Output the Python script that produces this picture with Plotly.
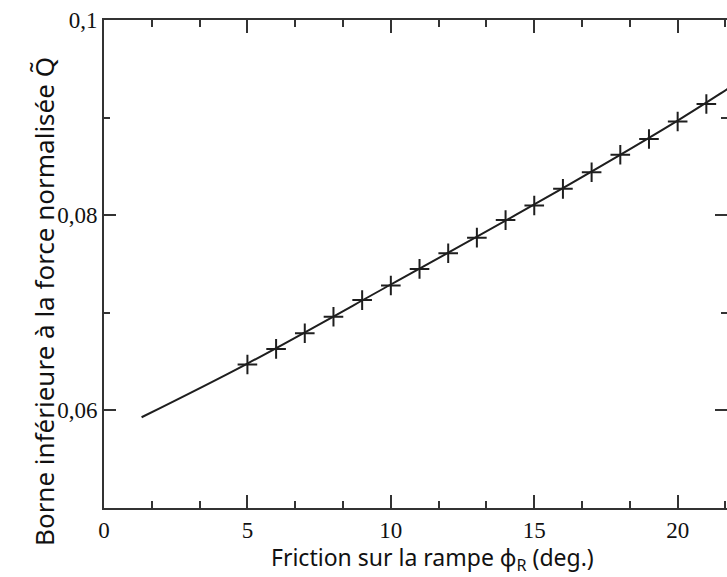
import plotly.graph_objects as go

# Friction angle on the ramp (degrees) and computed lower bound of normalised force
phi_points = [5, 6, 7, 8, 9, 10, 11, 12, 13, 14, 15, 16, 17, 18, 19, 20, 21]
q_points = [0.0647, 0.0663, 0.0679, 0.0696, 0.0713, 0.0728, 0.0745, 0.0761,
            0.0777, 0.0795, 0.0810, 0.0827, 0.0844, 0.0862, 0.0878, 0.0896, 0.0914]

# Continuous bound curve
phi_curve = [1.31, 5, 10, 15, 20, 21.72, 22.2]
q_curve = [0.0593, 0.0648, 0.0729, 0.0811, 0.0897, 0.0929, 0.0938]

x_ticks = [0, 5, 10, 15, 20]
x_labels = ["0", "5", "10", "15", "20"]
y_ticks = [0.06, 0.08, 0.1]
y_labels = ["0,06", "0,08", "0,1"]

x_range = [0, 21.72]
y_range = [0.05, 0.1]

axis_col = "#333333"
tick_font = dict(family="Liberation Serif", size=23, color="#111111")
x_title_font = dict(family="Noto Sans", size=23, color="#111111")
y_title_font = dict(family="Noto Sans", size=26, color="#111111")

fig = go.Figure()
fig.add_trace(go.Scatter(
    x=phi_curve, y=q_curve, mode="lines", line=dict(color="#1e1e1e", width=2),
    line_shape="spline", showlegend=False, hoverinfo="skip"))
fig.add_trace(go.Scatter(
    x=phi_points, y=q_points, mode="markers",
    marker=dict(symbol="cross-thin", size=14, line=dict(color="#1e1e1e", width=2)),
    showlegend=False))

# invisible trace so the right-hand tick axis gets drawn
fig.add_trace(go.Scatter(x=[None], y=[None], yaxis="y2", showlegend=False))

fig.update_layout(
    width=727, height=577,
    margin=dict(l=104, r=0, t=20, b=69),
    paper_bgcolor="white", plot_bgcolor="white",
    xaxis=dict(
        range=x_range, showgrid=False, zeroline=False,
        showline=True, linecolor=axis_col, linewidth=2, mirror="ticks",
        ticks="inside", ticklen=13, tickwidth=2, tickcolor=axis_col,
        tickvals=x_ticks, ticktext=x_labels, tickfont=tick_font,
        minor=dict(dtick=5 / 3, tick0=0, ticks="inside", ticklen=7,
                   tickwidth=2, tickcolor=axis_col, showgrid=False),
    ),
    yaxis=dict(
        range=y_range, showgrid=False, zeroline=False,
        showline=True, linecolor=axis_col, linewidth=2, mirror=False,
        ticks="inside", ticklen=12, tickwidth=2, tickcolor=axis_col,
        tickvals=y_ticks, ticktext=y_labels, tickfont=tick_font,
        minor=dict(dtick=0.01, tick0=0, ticks="inside", ticklen=6,
                   tickwidth=2, tickcolor=axis_col, showgrid=False),
    ),
    yaxis2=dict(
        range=y_range, overlaying="y", side="right", anchor="x",
        showgrid=False, zeroline=False, showline=False,
        ticks="inside", ticklen=12, tickwidth=2, tickcolor=axis_col,
        tickvals=y_ticks, showticklabels=False,
        minor=dict(dtick=0.01, tick0=0, ticks="inside", ticklen=6,
                   tickwidth=2, tickcolor=axis_col, showgrid=False),
    ),
    annotations=[
        dict(text="Friction sur la rampe ϕ<sub>R</sub> (deg.)",
             xref="paper", yref="paper", x=(432 - 104) / 623, y=-0.063,
             xanchor="center", yanchor="top", showarrow=False, font=x_title_font),
        dict(text="Borne inférieure à la force normalisée Q\u0303",
             xref="paper", yref="paper", x=-(104 - 44) / 623, y=(508 - 302) / 488,
             xanchor="center", yanchor="middle", textangle=-90,
             showarrow=False, font=y_title_font),
    ],
)

fig.write_html("out.html")
